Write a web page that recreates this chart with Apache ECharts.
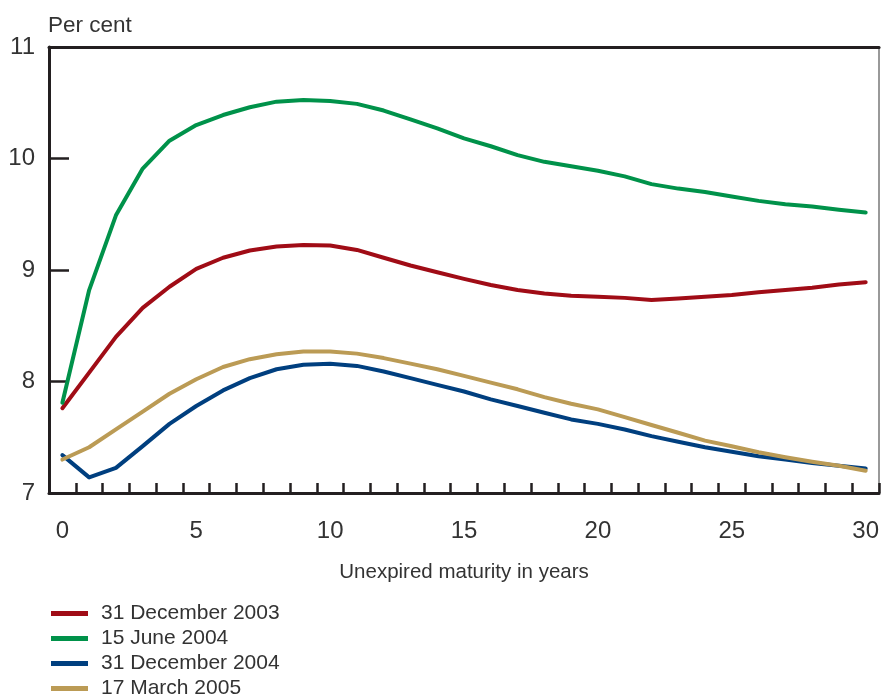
<!DOCTYPE html>
<html>
<head>
<meta charset="utf-8">
<script src="https://cdn.jsdelivr.net/npm/echarts@6/dist/echarts.min.js"></script>
<style>
html,body{margin:0;padding:0;background:#fff;}
#chart{width:882px;height:697px;}
</style>
</head>
<body>
<div id="chart"></div>
<script>
const years = ['0','1','2','3','4','5','6','7','8','9','10','11','12','13','14','15','16','17','18','19','20','21','22','23','24','25','26','27','28','29','30'];
const yTicks = [7, 8, 9, 10, 11];
const dec2003 = [7.76,8.08,8.40,8.66,8.85,9.01,9.11,9.175,9.21,9.225,9.22,9.18,9.11,9.04,8.98,8.92,8.865,8.82,8.79,8.77,8.76,8.75,8.73,8.745,8.76,8.775,8.80,8.82,8.84,8.87,8.89];
const jun2004 = [7.81,8.82,9.49,9.91,10.16,10.30,10.39,10.46,10.51,10.525,10.515,10.49,10.43,10.35,10.27,10.18,10.11,10.03,9.97,9.93,9.89,9.84,9.77,9.73,9.70,9.66,9.62,9.59,9.57,9.54,9.515];
const dec2004 = [7.34,7.14,7.225,7.42,7.62,7.78,7.92,8.03,8.11,8.15,8.16,8.14,8.09,8.03,7.97,7.91,7.84,7.78,7.72,7.66,7.62,7.57,7.51,7.46,7.41,7.37,7.33,7.30,7.27,7.245,7.22];
const mar2005 = [7.30,7.41,7.57,7.73,7.89,8.02,8.13,8.20,8.245,8.27,8.27,8.25,8.21,8.16,8.11,8.05,7.99,7.93,7.86,7.80,7.75,7.68,7.61,7.54,7.47,7.42,7.365,7.32,7.28,7.245,7.20];
const seriesNames = ['31 December 2003','15 June 2004','31 December 2004','17 March 2005'];
const seriesData = [dec2003, jun2004, dec2004, mar2005];
const seriesColors = ['#a00c16','#00924a','#003f7f','#bb9b55'];

const FONT = 'Liberation Sans';
const TXT = '#333';
const AX = '#231f20';

const chart = echarts.init(document.getElementById('chart'), null, {renderer:'canvas'});
chart.setOption({
  animation:false,
  backgroundColor:'#fff',
  textStyle:{fontFamily:FONT},
  title:{text:'Per cent', left:43, top:9, textStyle:{fontFamily:FONT, fontSize:22.5, fontWeight:'normal', color:TXT}},
  grid:{left:49, right:1, top:47, bottom:204},
  legend:{
    orient:'vertical', left:46, top:598, height:120, icon:'rect', itemWidth:37, itemHeight:5, itemGap:4,
    data:seriesNames,
    textStyle:{fontFamily:FONT, fontSize:21, color:TXT, padding:[0,0,0,8]}
  },
  xAxis:[{
    type:'category', data:years, boundaryGap:true,
    axisLine:{lineStyle:{color:AX, width:3}},
    axisTick:{show:true, inside:true, length:10, interval:0, lineStyle:{color:AX, width:2.5}},
    axisLabel:{interval:4, fontSize:24, color:TXT, margin:26, fontFamily:FONT},
    name:'Unexpired maturity in years', nameLocation:'middle', nameGap:69,
    nameTextStyle:{fontSize:20.5, color:TXT, fontFamily:FONT},
    splitLine:{show:false}
  },{
    type:'category', data:years, position:'top',
    axisLine:{lineStyle:{color:AX, width:3}},
    axisTick:{show:false}, axisLabel:{show:false}, splitLine:{show:false}
  }],
  yAxis:[{
    type:'value', min:yTicks[0], max:yTicks[yTicks.length-1], interval:1,
    axisLine:{show:true, lineStyle:{color:AX, width:3}},
    axisTick:{show:true, inside:true, length:20, lineStyle:{color:AX, width:2.5}},
    axisLabel:{fontSize:24, color:TXT, margin:14, fontFamily:FONT},
    splitLine:{show:false}
  },{
    type:'value', min:yTicks[0], max:yTicks[yTicks.length-1], interval:1, position:'right',
    axisLine:{show:true, lineStyle:{color:'#777', width:1.5}},
    axisTick:{show:false}, axisLabel:{show:false}, splitLine:{show:false}
  }],
  series: seriesNames.map((n,i)=>({
    name:n, type:'line', data:seriesData[i], xAxisIndex:0, yAxisIndex:0,
    showSymbol:false, symbol:'none', smooth:false,
    itemStyle:{color:seriesColors[i]},
    lineStyle:{color:seriesColors[i], width:4, cap:'round', join:'round'},
    z: 3
  }))
});
</script>
</body>
</html>
